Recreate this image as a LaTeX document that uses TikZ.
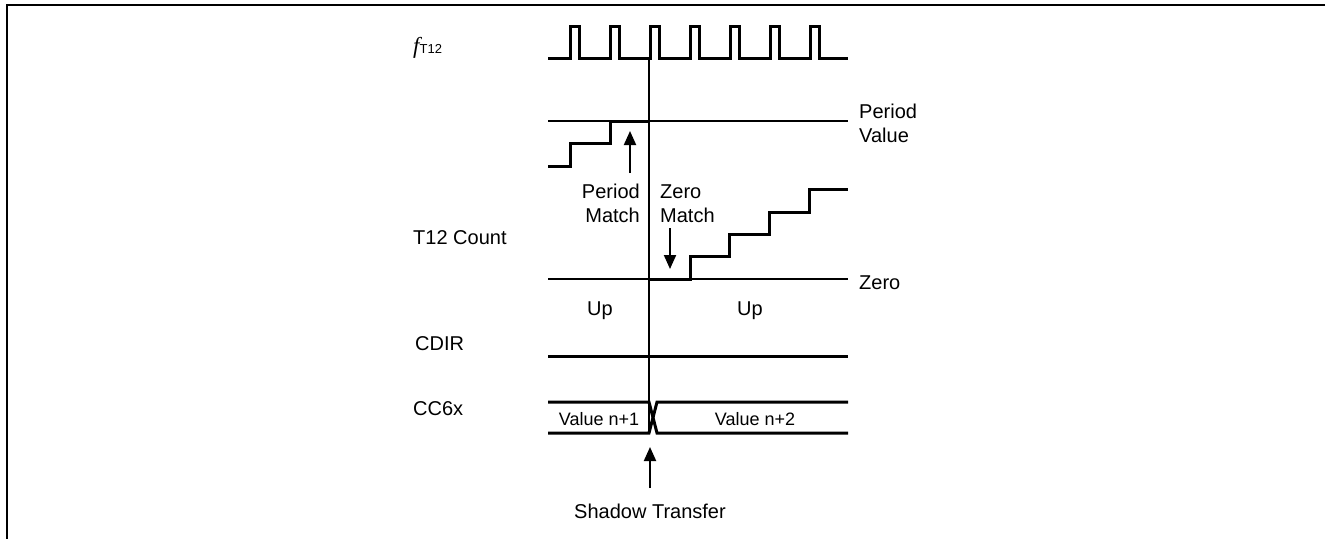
\documentclass[tikz,border=0pt]{standalone}
\usepackage{fontspec}
\setmainfont{Liberation Sans}
\newfontfamily\seriffont{Liberation Serif}
\usepackage{tikz}
\usetikzlibrary{
  arrows.meta,
  positioning
}
\tikzset{
  sig/.style={line width=3pt,draw=black,line join=miter},
  refline/.style={line width=2pt,draw=black},
  frameline/.style={line width=2pt,draw=black},
  markflow/.style={-{Triangle[length=14pt,width=12pt]},line width=2pt,draw=black},
  lab/.style={font=\fontsize{20}{24}\selectfont,inner sep=0pt},
  twolab/.style={font=\fontsize{20}{24}\selectfont,inner sep=0pt,align=left},
  vallab/.style={font=\fontsize{18}{22}\selectfont,inner sep=0pt}
}
\newcommand{\fclk}{{\fontsize{23}{24}\seriffont\itshape f}{\fontsize{13}{14}\selectfont T12}}

\begin{document}
\begin{tikzpicture}[x=1pt,y=-1pt]
  \useasboundingbox (0,0) rectangle (1330,539);
  \draw[frameline] (1325,5) -- (7,5) -- (7,539);

  % signal names
  \node[lab,anchor=base west] (fname) at (413,53) {\fclk};
  \node[lab,anchor=base west] (cname) at (413,244) {T12 Count};
  \node[lab,anchor=base west] (dname) at (415,350) {CDIR};
  \node[lab,anchor=base west] (sname) at (413,415) {CC6x};

  % clock
  \draw[sig] (548,58)
    foreach \k in {0,...,6} {
      -- ({570+40*\k},58) -- ({570+40*\k},26)
      -- ({579+40*\k},26) -- ({579+40*\k},58)
    } -- (848,58);

  % period match instant
  \coordinate (pmtop) at (649,58);
  \coordinate (pmbot) at (649,433);
  \draw[refline] (pmtop) -- (pmbot);

  % counter
  \draw[refline] (548,121) -- (848,121);
  \draw[refline] (548,279) -- (848,279);
  \draw[sig] (548,166) -- (570,166) -- (570,143) -- (610,143)
    -- (610,121) -- (649,121);
  \draw[sig] (649,279) -- (690,279) -- (690,256) -- (729,256)
    -- (729,234) -- (769,234) -- (769,212) -- (809,212)
    -- (809,189) -- (848,189);
  \node[twolab,anchor=base west] (pv) at (859,142) {Period\\Value};
  \node[lab,anchor=base west] (zv) at (859,289) {Zero};

  \node[twolab,align=right,anchor=base east] (pm) at (640,222) {Period\\Match};
  \coordinate (pmtail) at (630,173);
  \coordinate (pmtip) at (630,131);
  \draw[markflow] (pmtail) -- (pmtip);

  \node[twolab,anchor=base west] (zm) at (660,222) {Zero\\Match};
  \coordinate (zmtail) at (670,228);
  \coordinate (zmtip) at (670,269);
  \draw[markflow] (zmtail) -- (zmtip);

  \node[lab,anchor=base] (up1) at (600,315) {Up};
  \node[lab,anchor=base] (up2) at (750,315) {Up};

  % direction
  \draw[sig] (548,356) -- (848,356);

  % compare shadow
  \draw[sig] (548,402) -- (649,402) -- (657,433) -- (848,433);
  \draw[sig] (548,433) -- (649,433) -- (657,402) -- (848,402);
  \node[vallab,anchor=base] (v1) at (599,425) {Value n+1};
  \node[vallab,anchor=base] (v2) at (755,425) {Value n+2};

  \node[lab,anchor=base] (st) at (650,518) {Shadow Transfer};
  \coordinate (sttail) at (650,488);
  \coordinate (sttip) at (650,447);
  \draw[markflow] (sttail) -- (sttip);
\end{tikzpicture}
\end{document}
